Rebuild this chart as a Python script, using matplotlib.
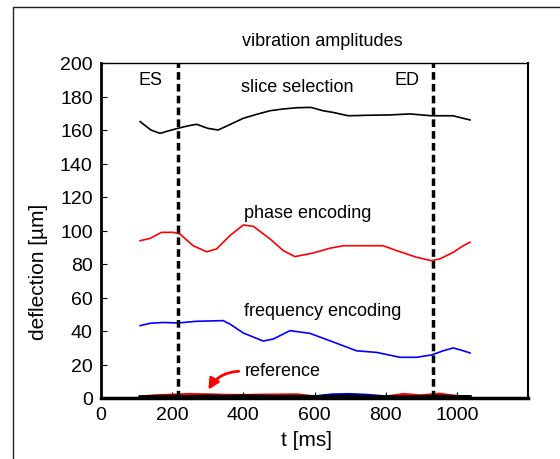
import matplotlib.pyplot as plt
from matplotlib.patches import Rectangle

plt.rcParams['font.family'] = ['Liberation Sans', 'DejaVu Sans']

# slice selection (black)
t_slice = [110, 140, 166, 190, 216, 245, 269, 300, 329, 360, 400, 440, 475, 510, 550,
           590, 624, 652, 695, 750, 812, 868, 929, 989, 1037]
v_slice = [165, 160, 158, 159.5, 161, 162.5, 163.4, 161, 160, 163, 167, 169.5, 171.5, 172.5, 173.3,
           173.5, 171.5, 170.5, 168.5, 168.8, 169, 169.6, 168.5, 168.5, 166]

# phase encoding (red)
t_phase = [110, 138, 170, 203, 222, 259, 297, 325, 362, 400, 428, 475, 512, 545, 597,
           643, 681, 737, 793, 831, 887, 929, 952, 990, 1018, 1037]
v_phase = [93.9, 95.3, 98.9, 98.9, 97.9, 90.9, 87.3, 89, 96.9, 103.3, 102.5, 95, 88, 84.4, 86.6,
           89.4, 90.9, 90.9, 90.9, 88, 84, 82, 83, 87, 90.9, 93]

# frequency encoding (blue)
t_freq = [110, 138, 175, 217, 268, 343, 362, 400, 456, 484, 531, 587, 643, 718, 775,
          840, 887, 929, 962, 990, 1018, 1037]
v_freq = [43.2, 44.6, 45.1, 44.8, 45.8, 46.2, 44.2, 38.8, 34, 35.2, 40.2, 38.6, 34.2, 28.2, 27.2,
          24.3, 24.3, 25.7, 28.2, 29.9, 28.2, 26.9]

# reference measurements near zero
t_ref = [110, 150, 200, 250, 300, 350, 400, 450, 500, 550, 600, 650, 700, 750, 800,
         850, 900, 950, 1000, 1037]
ref_black = [0.8, 1.0, 1.2, 1.0, 1.3, 1.1, 1.4, 1.2, 1.0, 1.1, 0.9, 1.2, 1.3, 1.1, 1.0,
             0.8, 1.0, 1.2, 1.0, 0.9]
ref_red = [0.5, 1.2, 1.6, 2.0, 1.8, 1.5, 1.4, 1.6, 1.7, 1.8, 0.6, 0.5, 0.4, 0.6, 0.5,
           2.0, 1.2, 2.2, 0.8, 0.6]
ref_blue = [0.3, 0.4, 0.8, 1.0, 0.9, 0.5, 0.7, 0.6, 0.4, 0.5, 0.6, 1.8, 2.0, 1.5, 0.5,
            0.3, 0.4, 0.6, 0.5, 0.3]

t_es = 215
t_ed = 932

fig = plt.figure(figsize=(5.6, 4.6), dpi=100)
ax = fig.add_axes([101 / 560, 1 - 399 / 460, 427 / 560, 335 / 460])

# thin frame around the whole figure
fig.patches.append(Rectangle((13 / 560, -0.05), 1.1, 1 - 8 / 460 + 0.05,
                             transform=fig.transFigure, fill=False,
                             edgecolor='#222222', linewidth=1.0))

ax.plot(t_slice, v_slice, color='black', lw=1.2)
ax.plot(t_phase, v_phase, color='#ff0000', lw=1.2)
ax.plot(t_freq, v_freq, color='#0000ff', lw=1.2)

ax.plot(t_ref, ref_blue, color='#0000ff', lw=2.5)
ax.plot(t_ref, ref_red, color='#ff0000', lw=2.5)
ax.plot(t_ref, ref_black, color='black', lw=2.0)

ax.axvline(t_es, color='black', lw=2.5, ls=(0, (2.2, 1.2)))
ax.axvline(t_ed, color='black', lw=2.5, ls=(0, (2.2, 1.2)))

fs = 13
ax.text(138, 190, 'ES', fontsize=fs, ha='center', va='center')
ax.text(860, 190, 'ED', fontsize=fs, ha='center', va='center')
ax.text(393, 186, 'slice selection', fontsize=fs, va='center')
ax.text(401, 111, 'phase encoding', fontsize=fs, va='center')
ax.text(401, 52.5, 'frequency encoding', fontsize=fs, va='center')
ax.text(404, 16.5, 'reference', fontsize=fs, va='center')
ax.annotate('', xy=(298, 3.5), xytext=(395, 16),
            arrowprops=dict(arrowstyle='-|>', color='#ff0000', lw=2,
                            mutation_scale=16, connectionstyle='arc3,rad=0.3'))

fig.text(322 / 560, 1 - 42 / 460, 'vibration amplitudes', fontsize=fs,
         ha='center', va='center')

ax.set_xlim(0, 1200)
ax.set_ylim(0, 200)
ax.set_xticks([0, 200, 400, 600, 800, 1000])
ax.set_yticks(range(0, 201, 20))
ax.tick_params(direction='in', length=4, labelsize=14, pad=6)
ax.set_xlabel('t [ms]', fontsize=15)
ax.set_ylabel('deflection [µm]', fontsize=15)
ax.xaxis.set_label_coords(0.482, -0.097)
ax.yaxis.set_label_coords(-0.125, 0.379)

ax.spines['left'].set_linewidth(2)
ax.spines['bottom'].set_linewidth(2.5)
ax.spines['right'].set_linewidth(1.5)
ax.spines['top'].set_linewidth(1.0)

fig.savefig('out.png', dpi=100)
